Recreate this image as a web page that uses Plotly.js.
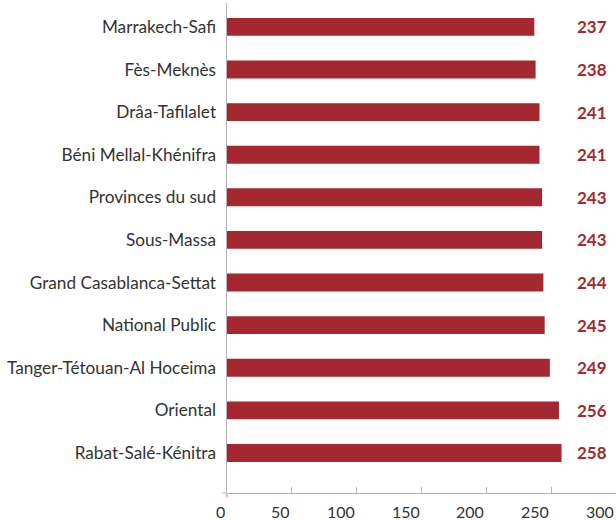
<!DOCTYPE html>
<html>
<head>
<meta charset="utf-8">
<script src="https://cdn.plot.ly/plotly-3.0.1.min.js"></script>
<style>html,body{margin:0;padding:0;background:#fff;}#chart{width:616px;height:520px;}</style>
</head>
<body>
<div id="chart"></div>
<script>
var regions = ["Marrakech-Safi","Fès-Meknès","Drâa-Tafilalet","Béni Mellal-Khénifra","Provinces du sud","Sous-Massa","Grand Casablanca-Settat","National Public","Tanger-Tétouan-Al Hoceima","Oriental","Rabat-Salé-Kénitra"];
var scores = [237,238,241,241,243,243,244,245,249,256,258];
var xTicks = [0,50,100,150,200,250,300];

var barColor = "#a4282f";
var axisColor = "#b4b4b4";
var fontFam = "Lato, 'Open Sans', sans-serif";

var trace = {
  type: "bar",
  orientation: "h",
  y: regions,
  x: scores,
  width: 0.42,
  marker: {color: barColor},
  hoverinfo: "none"
};

var annotations = [];
scores.forEach(function(v, i){
  annotations.push({
    xref: "x", yref: "y", x: 294.5, y: regions[i],
    text: "<b>" + v + "</b>", showarrow: false, xanchor: "right", yanchor: "middle",
    font: {family: fontFam, size: 17, color: barColor}
  });
});
xTicks.forEach(function(t){
  annotations.push({
    xref: "x", yref: "paper", x: t, y: 0, yshift: -7,
    text: String(t), showarrow: false, xanchor: "right", yanchor: "top",
    font: {family: fontFam, size: 16, color: "#333333"}
  });
});

var layout = {
  width: 616, height: 520,
  margin: {l: 227, r: 0, t: 3, b: 27, pad: 0},
  paper_bgcolor: "#ffffff", plot_bgcolor: "#ffffff",
  showlegend: false,
  font: {family: fontFam, color: "#333333"},
  xaxis: {
    range: [0, 300], dtick: 50, tick0: 0,
    showgrid: false, zeroline: false,
    showline: true, linecolor: axisColor, linewidth: 1,
    ticks: "inside", ticklen: 6, tickcolor: axisColor, tickwidth: 1,
    showticklabels: false, fixedrange: true
  },
  yaxis: {
    type: "category",
    range: [10.94, -0.56],
    showgrid: false, zeroline: false,
    showline: true, linecolor: axisColor, linewidth: 1.5,
    ticks: "", ticklabelstandoff: 6,
    tickfont: {family: fontFam, size: 17.2, color: "#333333"},
    fixedrange: true
  },
  shapes: [
    {type: "line", xref: "paper", yref: "paper", x0: -0.012, x1: 0, y0: 0, y1: 0, line: {color: axisColor, width: 1}},
    {type: "line", xref: "paper", yref: "paper", x0: 0, x1: 0, y0: 0, y1: -0.009, line: {color: axisColor, width: 1.5}}
  ],
  annotations: annotations
};

Plotly.newPlot("chart", [trace], layout, {displayModeBar: false, staticPlot: true});
</script>
</body>
</html>
